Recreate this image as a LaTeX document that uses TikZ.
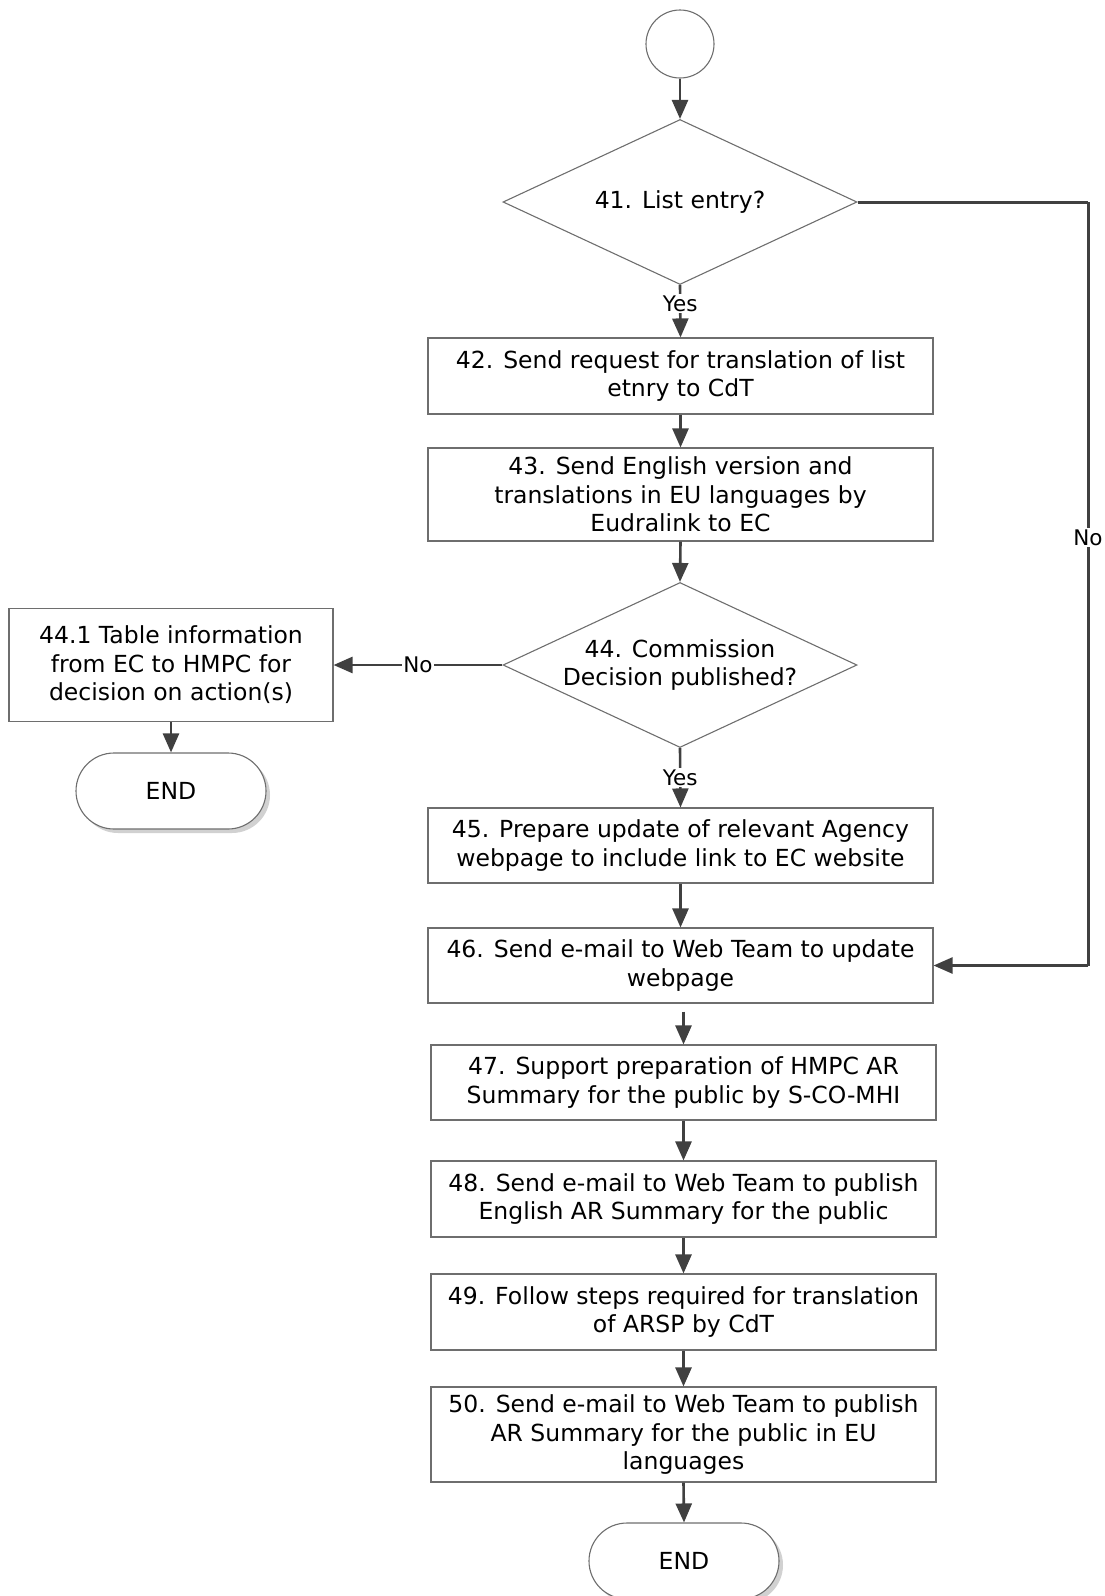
\documentclass[tikz,border=0pt]{standalone}
\usepackage{fontspec}
\setmainfont{DejaVu Sans}
\usetikzlibrary{arrows.meta,shapes.geometric,shadows}
\definecolor{boxgray}{HTML}{6E6E6E}
\definecolor{arrgray}{HTML}{404040}
\begin{document}
\begin{tikzpicture}[x=1pt,y=-1pt,
  txt/.style={font=\fontsize{23.5}{28.5}\selectfont, align=center, inner sep=0pt},
  box/.style={txt, draw=boxgray, line width=1.1pt, fill=white, minimum width=505pt},
  dia/.style={shape=diamond, draw=boxgray, line width=1.1pt, minimum width=354pt, minimum height=165pt, inner sep=0pt},
  term/.style={txt, draw=boxgray, line width=1.1pt, fill=white, minimum width=190pt, minimum height=76pt, rounded corners=38pt,
    drop shadow={shadow xshift=4pt, shadow yshift=-4pt, fill=black!18, opacity=1}},
  arr/.style={draw=arrgray, line width=2.6pt, -{Triangle[length=19pt,width=16pt]}},
  ln/.style={draw=arrgray, line width=3pt},
  lbl/.style={font=\fontsize{21.5}{23}\selectfont, fill=white, inner sep=1.5pt}
]
\useasboundingbox (0,0) rectangle (1105,1596);

% nodes
\node[circle, draw=boxgray, line width=1.1pt, minimum size=68pt, inner sep=0pt] (start) at (680,44) {};
\node[dia] (d41) at (680,202) {};
\node[txt] at (d41.center) {41. List entry?};
\node[box, minimum height=76pt] (b42) at (680.5,376) {42. Send request for translation of list\\etnry to CdT};
\node[box, minimum height=93pt] (b43) at (680.5,494.5) {43. Send English version and\\translations in EU languages by\\Eudralink to EC};
\node[dia] (d44) at (680,665) {};
\node[txt] at (d44.center) {44. Commission\\Decision published?};
\node[box, minimum width=324pt, minimum height=113pt] (b441) at (171,665) {44.1 Table information\\from EC to HMPC for\\decision on action(s)};
\node[term] (end1) at (171,791) {END};
\node[box, minimum height=75pt] (b45) at (680.5,845.5) {45. Prepare update of relevant Agency\\webpage to include link to EC website};
\node[box, minimum height=75pt] (b46) at (680.5,965.5) {46. Send e-mail to Web Team to update\\webpage};
\node[box, minimum height=75pt] (b47) at (683.5,1082.5) {47. Support preparation of HMPC AR\\Summary for the public by S-CO-MHI};
\node[box, minimum height=76pt] (b48) at (683.5,1199) {48. Send e-mail to Web Team to publish\\English AR Summary for the public};
\node[box, minimum height=76pt] (b49) at (683.5,1312) {49. Follow steps required for translation\\of ARSP by CdT};
\node[box, minimum height=95pt] (b50) at (683.5,1434.5) {50. Send e-mail to Web Team to publish\\AR Summary for the public in EU\\languages};
\node[term] (end2) at (684,1561) {END};

\coordinate (r1) at (1088,202);
\coordinate (r2) at (1088,965.5);
\coordinate (g46) at ([yshift=-8pt]b47.north |- b46.south);

% connectors
\draw[arr] (start.south) -- (d41.north);
\draw[arr] (d41.south) -- node[lbl, pos=0.36] {Yes} (b42.north);
\draw[arr] (b42.south) -- (b43.north);
\draw[arr] (b43.south) -- (d44.north);
\draw[arr] (d44.west) -- node[lbl, pos=0.5] {No} (b441.east);
\draw[arr] (b441.south) -- (end1.north);
\draw[arr] (d44.south) -- node[lbl, pos=0.5] {Yes} (b45.north);
\draw[arr] (b45.south) -- (b46.north);
\draw[ln] (d41.east) -- (r1);
\draw[ln] (r1) -- node[lbl, pos=0.44] {No} (r2);
\draw[arr] (r2) -- (b46.east);
\draw[arr] (g46) -- (b47.north);
\draw[arr] (b47.south) -- (b48.north);
\draw[arr] (b48.south) -- (b49.north);
\draw[arr] (b49.south) -- (b50.north);
\draw[arr] (b50.south) -- (end2.north);
\end{tikzpicture}
\end{document}
